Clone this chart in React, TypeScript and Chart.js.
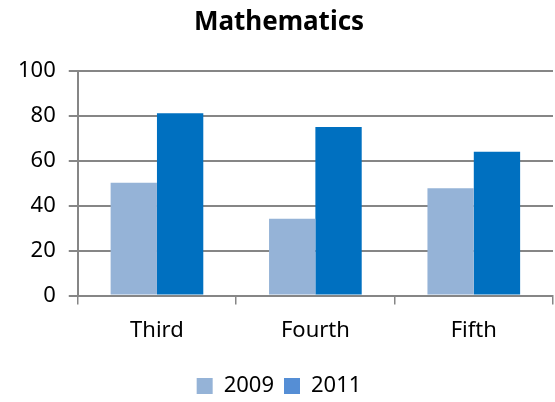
import React, { useEffect, useRef } from "react";
import { Chart, registerables } from "chart.js";

Chart.register(...registerables);

const categories = ["Third", "Fourth", "Fifth"];
const series2009 = [50.3, 34.2, 47.8];
const series2011 = [81.3, 75.1, 64.1];
const seriesLabels = ["2009", "2011"];
const yTicks = [0, 20, 40, 60, 80, 100];

const FONT = "'Noto Sans', sans-serif";

export default function App() {
  const ref = useRef<HTMLCanvasElement | null>(null);

  useEffect(() => {
    document.body.style.margin = "0";
    const canvas = ref.current;
    if (!canvas) return;
    const chart = new Chart(canvas, {
      type: "bar",
      data: {
        labels: categories,
        datasets: [
          {
            label: seriesLabels[0],
            data: series2009,
            backgroundColor: "#95B3D7",
            borderWidth: 0,
            categoryPercentage: 0.585,
            barPercentage: 1,
          },
          {
            label: seriesLabels[1],
            data: series2011,
            backgroundColor: "#0070C0",
            borderWidth: 0,
            categoryPercentage: 0.585,
            barPercentage: 1,
          },
        ],
      },
      options: {
        animation: false,
        responsive: false,
        devicePixelRatio: 1,
        layout: { padding: { left: 5, right: 2, top: 0, bottom: -5 } },
        plugins: {
          title: {
            display: true,
            text: "Mathematics",
            color: "#000",
            font: { family: FONT, size: 26, weight: "bold" },
            padding: { top: 7, bottom: 33 },
          },
          legend: {
            position: "bottom",
            labels: {
              color: "#000",
              font: { family: FONT, size: 22 },
              boxWidth: 16,
              boxHeight: 16,
              padding: 10,
              generateLabels: (c: any) => {
                const base = Chart.defaults.plugins.legend.labels.generateLabels(c);
                return base.map((it: any, i: number) => ({
                  ...it,
                  fillStyle: i === 0 ? "#95B3D7" : "#558ED5",
                  strokeStyle: "transparent",
                  lineWidth: 0,
                }));
              },
            },
          },
          tooltip: { enabled: false },
        },
        scales: {
          x: {
            afterFit: (scale: any) => {
              scale.height += 8;
            },
            grid: {
              offset: true,
              drawOnChartArea: false,
              drawTicks: true,
              tickLength: 9,
              color: "#868686",
              lineWidth: 1.5,
            },
            border: { color: "#868686", width: 2 },
            ticks: {
              color: "#000",
              font: { family: FONT, size: 22 },
              padding: 13,
            },
          },
          y: {
            min: 0,
            max: 100,
            afterBuildTicks: (axis: any) => {
              axis.ticks = yTicks.map((v) => ({ value: v }));
            },
            grid: {
              color: "#868686",
              lineWidth: 2,
              tickLength: 9,
            },
            border: { color: "#868686", width: 2 },
            ticks: {
              color: "#000",
              font: { family: FONT, size: 22 },
              padding: 13,
            },
          },
        },
      },
    });
    return () => chart.destroy();
  }, []);

  return <canvas ref={ref} width={555} height={402} style={{ display: "block" }} />;
}
